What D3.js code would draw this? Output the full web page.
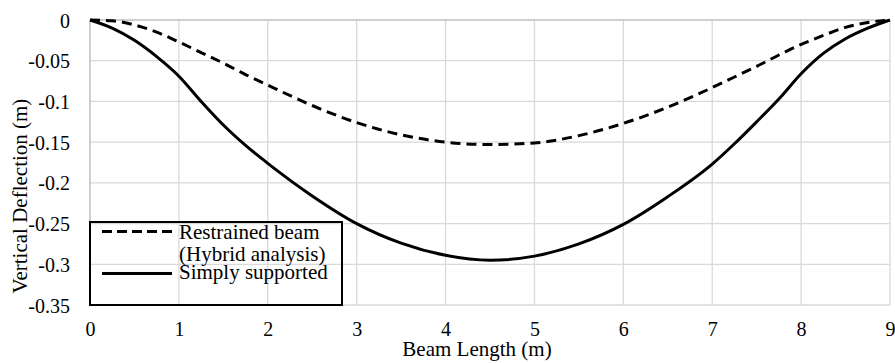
<!DOCTYPE html>
<html>
<head>
<meta charset="utf-8">
<script src="https://cdn.jsdelivr.net/npm/d3@7"></script>
<style>
body{margin:0;background:#fff;}
svg text{font-family:"Liberation Serif",Tinos,"Times New Roman","DejaVu Serif",serif;fill:#000;}
</style>
</head>
<body>
<div id="deflection"></div>
<script>
// beam positions (m) and vertical deflection (m)
var beamX = [0,0.25,0.5,0.75,1,1.25,1.5,1.75,2,2.5,3,3.5,4,4.5,5,5.5,6,6.5,7,7.25,7.5,7.75,8,8.25,8.5,8.75,9];
var restrained = [0,-0.001,-0.006,-0.015,-0.027,-0.040,-0.053,-0.067,-0.080,-0.105,-0.126,-0.141,-0.150,-0.153,-0.151,-0.142,-0.127,-0.107,-0.083,-0.070,-0.057,-0.043,-0.030,-0.019,-0.009,-0.003,0];
var simply = [0,-0.010,-0.025,-0.045,-0.069,-0.100,-0.129,-0.154,-0.176,-0.216,-0.250,-0.274,-0.289,-0.295,-0.290,-0.275,-0.251,-0.217,-0.177,-0.152,-0.125,-0.097,-0.066,-0.041,-0.023,-0.010,0];

var xTicks = [0,1,2,3,4,5,6,7,8,9];
var yTicks = [0,-0.05,-0.1,-0.15,-0.2,-0.25,-0.3,-0.35];
var yTickLabels = ["0","-0.05","-0.1","-0.15","-0.2","-0.25","-0.3","-0.35"];
var legendLines = [["Restrained beam","(Hybrid analysis)"],["Simply supported"]];

var serif = '"Liberation Serif",Tinos,"Times New Roman","DejaVu Serif",serif';

var margin = {top:20,right:5,bottom:58,left:90},
w = 895 - margin.left - margin.right,
h = 363 - margin.top - margin.bottom;

var svg = d3.select("#deflection")
  .append("svg")
  .attr("width",895)
  .attr("height",363)
  .attr("font-family",serif)
  .append("g")
  .attr("transform",`translate(${margin.left},${margin.top})`);

var x = d3.scaleLinear().domain([0,9]).range([0,w]);
var y = d3.scaleLinear().domain([-0.35,0]).range([h,0]);

// gridlines
svg.append("g")
  .selectAll("line")
  .data(xTicks.slice(1))
  .enter().append("line")
  .attr("x1",d=>x(d)).attr("x2",d=>x(d))
  .attr("y1",0).attr("y2",h)
  .attr("stroke","#d9d9d9").attr("stroke-width",1.3);
svg.append("g")
  .selectAll("line")
  .data(yTicks.slice(1))
  .enter().append("line")
  .attr("x1",0).attr("x2",w)
  .attr("y1",d=>y(d)).attr("y2",d=>y(d))
  .attr("stroke","#d9d9d9").attr("stroke-width",1.3);

// axis lines (horizontal axis crosses at 0)
svg.append("line")
  .attr("x1",0).attr("x2",w).attr("y1",y(0)).attr("y2",y(0))
  .attr("stroke","#bfbfbf").attr("stroke-width",1.5);
svg.append("line")
  .attr("x1",0).attr("x2",0).attr("y1",0).attr("y2",h)
  .attr("stroke","#bfbfbf").attr("stroke-width",1.5);

// tick labels
var xAxis = svg.append("g")
  .attr("transform","translate(0,"+h+")")
  .call(d3.axisBottom(x).tickValues(xTicks).tickSize(0).tickFormat(d3.format("d")));
xAxis.attr("font-family",serif).attr("font-size",20);
xAxis.select(".domain").remove();
xAxis.selectAll("text").attr("y",31).attr("dy",0);

var yAxis = svg.append("g")
  .call(d3.axisLeft(y).tickValues(yTicks).tickSize(0).tickPadding(20)
    .tickFormat((d,i)=>yTickLabels[i]));
yAxis.attr("font-family",serif).attr("font-size",20);
yAxis.select(".domain").remove();
yAxis.selectAll("text").attr("dy","0.35em");

// curves
var line = d3.line()
  .x((d,i)=>x(beamX[i]))
  .y(d=>y(d))
  .curve(d3.curveMonotoneX);

svg.append("path")
  .datum(restrained)
  .attr("d",line)
  .attr("fill","none").attr("stroke","#000")
  .attr("stroke-width",3).attr("stroke-dasharray","10,6");
svg.append("path")
  .datum(simply)
  .attr("d",line)
  .attr("fill","none").attr("stroke","#000")
  .attr("stroke-width",3);

// legend
var lg = svg.append("g");
lg.append("rect")
  .attr("x",0).attr("y",202).attr("width",252).attr("height",h-202)
  .attr("fill","none").attr("stroke","#000").attr("stroke-width",2);
lg.append("line")
  .attr("x1",12).attr("x2",82).attr("y1",211.5).attr("y2",211.5)
  .attr("stroke","#000").attr("stroke-width",3).attr("stroke-dasharray","10,5");
lg.append("line")
  .attr("x1",12).attr("x2",82).attr("y1",253.5).attr("y2",253.5)
  .attr("stroke","#000").attr("stroke-width",3);
var lgY = [[219,241],[259]];
legendLines.forEach(function(lines,k){
  lines.forEach(function(t,j){
    lg.append("text")
      .attr("x",89).attr("y",lgY[k][j])
      .attr("font-size",21)
      .text(t);
  });
});

// axis titles
svg.append("text")
  .attr("x",387).attr("y",336)
  .attr("text-anchor","middle")
  .attr("font-size",21)
  .text("Beam Length (m)");
svg.append("text")
  .attr("transform","translate(-63,176) rotate(-90)")
  .attr("text-anchor","middle")
  .attr("font-size",21)
  .text("Vertical Deflection (m)");
</script>
</body>
</html>
